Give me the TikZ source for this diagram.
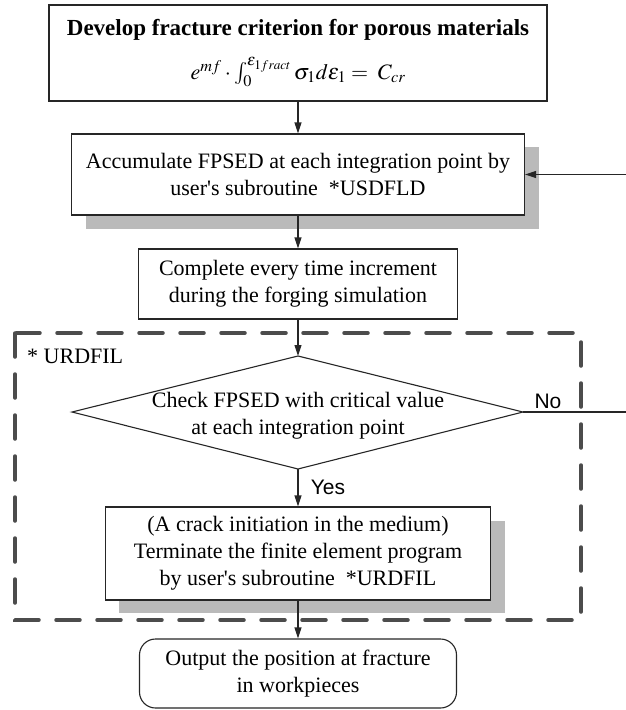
\documentclass[tikz,border=0pt]{standalone}
\usepackage{mathptmx}
\usepackage{fontspec}
\setmainfont{Liberation Serif}[Ligatures=TeXOff]
\newfontfamily\arialfont{Liberation Sans}
\usetikzlibrary{arrows.meta}
\begin{document}
\begin{tikzpicture}[x=1pt,y=-1pt,
  every node/.style={font=\fontsize{22}{27}\selectfont},
  stepbox/.style={draw=black!85, line width=1.1pt, fill=white, align=center, inner sep=0pt},
  shadebox/.style={fill=black!27},
  arr/.style={draw=black!85, line width=1.1pt, -{Triangle[length=11pt,width=7pt]}},
  plainline/.style={draw=black!85, line width=1.1pt},
  dashframe/.style={draw=black!70, line width=3.5pt, dash pattern=on 24pt off 17pt, line cap=round},
  yn/.style={font=\arialfont\fontsize{21}{25}\selectfont, inner sep=0pt}]
\useasboundingbox (0,0) rectangle (626,710);

% dashed frame
\draw[dashframe] (15,333) rectangle (581,620);

% top box
\node[stepbox, minimum width=498pt, minimum height=96pt] (top) at (298,53) {};
\node[inner sep=0pt, font=\fontsize{23}{27}\selectfont\bfseries] (title) at (298,30)
  {Develop fracture criterion for porous materials};
\node[inner sep=0pt] (formula) at (298,72)
  {$e^{mf}\cdot\int_0^{\varepsilon_{1fract}}\sigma_1 d\varepsilon_1 =\; C_{cr}$};

% accumulate box with shadow
\fill[shadebox] (86,147) rectangle (539,229);
\node[stepbox, minimum width=453pt, minimum height=81pt] (acc) at (298,174.5)
  {Accumulate FPSED at each integration point by\\user's subroutine\ \ *USDFLD};

% complete box
\node[stepbox, minimum width=319pt, minimum height=70pt] (comp) at (298,284)
  {Complete every time increment\\during the forging simulation};

% decision diamond
\coordinate (dL) at (72,412);
\coordinate (dT) at (298,356);
\coordinate (dR) at (523,412);
\coordinate (dB) at (298,469);
\draw[plainline, fill=white] (dL) -- (dT) -- (dR) -- (dB) -- cycle;
\node[align=center, inner sep=0pt] (dec) at (298,416)
  {Check FPSED with critical value\\at each integration point};

% terminate box with shadow
\fill[shadebox] (119,521) rectangle (505,613);
\node[stepbox, minimum width=385pt, minimum height=93pt] (term) at (298,553.5)
  {(A crack initiation in the medium)\\Terminate the finite element program\\by user's subroutine\ \ *URDFIL};

% output box
\node[stepbox, rounded corners=16pt, minimum width=317pt, minimum height=69pt] (out) at (298,673.5)
  {Output the position at fracture\\in workpieces};

% labels
\node[anchor=west, inner sep=0pt] (urd) at (27,356) {* URDFIL};
\node[yn] (yes) at (328,487) {Yes};
\node[yn] (no) at (548,401) {No};

% connectors
\coordinate (rin) at (626,174.5);
\coordinate (rout) at (626,412);
\draw[arr] (top.south) -- (acc.north);
\draw[arr] (acc.south) -- (comp.north);
\draw[arr] (comp.south) -- (dT);
\draw[arr] (dB) -- (term.north);
\draw[arr] (term.south) -- (out.north);
\draw[arr] (rin) -- (acc.east);
\draw[plainline] (dR) -- (rout);
\end{tikzpicture}
\end{document}
